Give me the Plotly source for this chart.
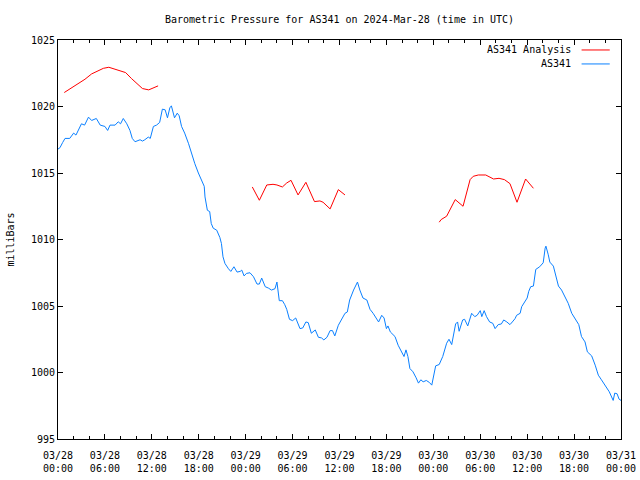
import pandas as pd
import plotly.graph_objects as go

START = "2024-03-28 00:00"

# Observed station pressure (hours after 03/28 00:00 UTC, millibars)
obs_hours = [0.0, 0.25, 0.6, 0.9, 1.5, 2.0, 2.3, 2.6, 3.0, 3.4, 3.9, 4.3, 4.9, 5.4, 6.0, 6.35, 6.65, 7.3, 7.7, 8.0,
             8.35, 8.8, 9.2, 9.5, 9.85, 10.5, 10.8, 11.1, 11.55, 11.8, 12.2, 12.6, 13.0, 13.35, 13.7, 14.0, 14.3,
             14.5, 14.9, 15.25, 15.5, 15.8, 16.2, 16.7, 17.1, 17.5, 17.95, 18.4, 18.7, 18.8, 19.1, 19.4, 19.6,
             19.85, 20.3, 20.7, 20.9, 21.1, 21.35, 21.8, 22.1, 22.5, 22.9, 23.3, 23.5, 23.8, 24.1, 24.55, 25.0,
             25.45, 25.75, 26.05, 26.5, 26.9, 27.3, 27.75, 28.0, 28.3, 28.7, 29.0, 29.25, 29.6, 30.0, 30.4,
             30.95, 31.3, 31.7, 32.0, 32.4, 32.9, 33.3, 33.7, 34.0, 34.4, 34.8, 35.1, 35.4, 35.85, 36.3, 36.7,
             37.0, 37.3, 37.8, 38.1, 38.3, 38.6, 39.0, 39.5, 39.9, 40.3, 40.75, 41.0, 41.4, 41.7, 42.0, 42.2,
             42.5, 43.1, 43.5, 43.9, 44.25, 44.5, 44.75, 45.0, 45.4, 45.8, 46.1, 46.4, 46.7, 47.1, 47.5, 47.8,
             48.1, 48.3, 48.75, 49.2, 49.7, 50.0, 50.35, 50.6, 50.85, 51.1, 51.3, 51.75, 52.0, 52.4, 52.9, 53.3,
             53.6, 54.0, 54.2, 54.5, 54.8, 55.2, 55.6, 55.9, 56.3, 56.7, 57.0, 57.4, 57.8, 58.1, 58.45, 58.65,
             59.1, 59.3, 59.7, 60.0, 60.2, 60.45, 60.8, 61.1, 61.6, 62.05, 62.3, 62.4, 62.7, 62.9, 63.35, 63.7,
             64.0, 64.4, 64.8, 65.25, 65.7, 66.1, 66.6, 66.95, 67.4, 67.7, 68.25, 68.7, 69.1, 69.5, 69.95, 70.5,
             71.0, 71.2, 71.5, 71.75, 72.0]
obs_mb = [1016.8, 1016.9, 1017.3, 1017.6, 1017.6, 1018.0, 1017.85, 1018.25, 1018.7, 1018.6, 1019.2, 1018.95,
          1019.1, 1018.6, 1018.5, 1018.2, 1018.6, 1018.6, 1018.85, 1018.7, 1019.1, 1018.7, 1018.2, 1017.6,
          1017.35, 1017.5, 1017.4, 1017.5, 1017.7, 1017.6, 1018.5, 1018.6, 1018.8, 1019.8, 1019.75, 1019.15,
          1019.9, 1020.05, 1019.15, 1019.5, 1019.3, 1018.5, 1018.0, 1017.2, 1016.4, 1015.7, 1015.0, 1014.35,
          1014.0, 1013.2, 1012.2, 1012.1, 1011.2, 1010.85, 1010.7, 1010.15, 1009.7, 1008.7, 1008.2, 1007.8,
          1007.6, 1007.95, 1007.55, 1007.6, 1007.7, 1007.26, 1007.45, 1007.5, 1007.2, 1006.65, 1006.65,
          1007.1, 1006.45, 1006.35, 1006.2, 1006.3, 1006.8, 1005.4, 1005.4, 1005.1, 1004.75, 1004.0, 1003.9,
          1004.1, 1003.3, 1003.35, 1003.8, 1003.75, 1002.95, 1003.2, 1002.65, 1002.6, 1002.45, 1002.65,
          1003.15, 1003.15, 1002.75, 1003.55, 1004.05, 1004.45, 1004.55, 1005.45, 1006.2, 1006.6, 1006.8,
          1006.2, 1005.6, 1005.45, 1004.75, 1004.45, 1004.05, 1003.8, 1004.3, 1004.1, 1003.3, 1003.5,
          1003.05, 1002.7, 1002.05, 1001.55, 1001.2, 1001.7, 1001.2, 1000.3, 1000.05, 999.6, 999.2, 999.45,
          999.3, 999.4, 999.25, 999.05, 999.9, 1000.5, 1000.6, 1001.2, 1002.2, 1002.5, 1002.1, 1002.95,
          1003.65, 1003.8, 1003.1, 1003.95, 1004.0, 1003.5, 1004.45, 1004.2, 1004.3, 1004.65, 1004.2,
          1004.65, 1004.2, 1003.8, 1003.7, 1003.3, 1003.6, 1003.65, 1003.95, 1003.8, 1003.6, 1003.8, 1004.05,
          1004.3, 1004.45, 1004.95, 1005.3, 1005.6, 1006.1, 1006.45, 1006.5, 1007.75, 1007.95, 1008.25,
          1009.35, 1009.5, 1008.85, 1008.3, 1008.0, 1007.2, 1006.5, 1006.2, 1005.7, 1005.2, 1004.45, 1004.05,
          1003.6, 1002.7, 1002.3, 1001.55, 1001.25, 1000.55, 999.8, 999.45, 999.05, 998.55, 997.9, 998.45,
          998.4, 998.0, 997.9]

# Analysis pressure (None separates the three analysis segments)
ana_hours = [0.8, 1.5, 2.6, 3.45, 4.3, 5.15, 5.8, 6.5, 7.3, 8.1, 8.65, 9.4, 10.3, 10.8, 11.6, 12.3, 12.8, None,
             24.85, 25.75, 26.7, 27.5, 28.0, 28.7, 29.25, 29.8, 30.7, 31.7, 32.8, 33.5, 33.9, 34.8, 35.85, 36.7,
             None,
             48.75, 49.0, 49.7, 50.8, 51.8, 52.7, 53.1, 53.75, 54.7, 55.7, 56.4, 57.1, 57.8, 58.7, 59.8, 60.8]
ana_mb = [1021.05, 1021.3, 1021.7, 1022.05, 1022.45, 1022.7, 1022.87, 1022.95, 1022.8, 1022.6, 1022.55, 1022.1,
          1021.6, 1021.35, 1021.25, 1021.4, 1021.55, None,
          1013.95, 1012.95, 1014.1, 1014.15, 1014.1, 1013.95, 1014.25, 1014.45, 1013.35, 1014.3, 1012.85,
          1012.9, 1012.8, 1012.3, 1013.75, 1013.35, None,
          1011.3, 1011.5, 1011.75, 1013.0, 1012.5, 1014.5, 1014.75, 1014.85, 1014.85, 1014.55, 1014.6,
          1014.5, 1014.2, 1012.8, 1014.55, 1013.85]

series_names = ["AS341 Analysis", "AS341"]
series_colors = ["#ff0000", "#0a80ff"]

t0 = pd.Timestamp(START)


def to_time(hours):
    return [None if h is None else t0 + pd.Timedelta(hours=h) for h in hours]


FONT = "DejaVu Sans Mono"
W, H = 640, 480

fig = go.Figure()
fig.add_trace(go.Scatter(x=to_time(ana_hours), y=ana_mb, mode="lines", name=series_names[0],
                         line=dict(color=series_colors[0], width=1), connectgaps=False))
fig.add_trace(go.Scatter(x=to_time(obs_hours), y=obs_mb, mode="lines", name=series_names[1],
                         line=dict(color=series_colors[1], width=1)))

axis_common = dict(showline=True, mirror="allticks", linecolor="black", linewidth=1,
                   ticks="inside", tickcolor="black", tickwidth=1, ticklen=5,
                   showgrid=False, zeroline=False,
                   tickfont=dict(family=FONT, size=10, color="black"))

fig.update_xaxes(range=[t0, t0 + pd.Timedelta(hours=72)], dtick=6 * 3600 * 1000,
                 tick0=t0, tickformat="%m/%d<br>%H:%M", ticklabelstandoff=7,
                 minor=dict(dtick=2 * 3600 * 1000, tick0=t0, ticks="inside", ticklen=3,
                            tickcolor="black", showgrid=False),
                 **axis_common)
fig.update_yaxes(range=[995, 1025], dtick=5, tick0=995,
                 title=dict(text="milliBars", font=dict(family=FONT, size=10, color="black"), standoff=14),
                 **axis_common)

# legend drawn gnuplot-style: text right-aligned, line sample to its right
legend_rows = [0.975, 0.94]
for name, color, yy in zip(series_names, series_colors, legend_rows):
    fig.add_annotation(x=0.915, y=yy, xref="paper", yref="paper", text=name, showarrow=False,
                       xanchor="right", yanchor="middle", font=dict(family=FONT, size=10, color="black"))
    fig.add_shape(type="line", xref="paper", yref="paper", x0=0.93, x1=0.98, y0=yy, y1=yy,
                  line=dict(color=color, width=1))

fig.update_layout(
    width=W, height=H,
    margin=dict(l=58, r=19, t=40, b=41, autoexpand=False),
    paper_bgcolor="white", plot_bgcolor="white",
    showlegend=False,
    hovermode=False,
    title=dict(text="Barometric Pressure for AS341 on 2024-Mar-28 (time in UTC)",
               x=0.5, xref="paper", xanchor="center", y=1 - 19 / H, yref="container", yanchor="middle",
               font=dict(family=FONT, size=10, color="black")),
    font=dict(family=FONT, size=10, color="black"),
)

fig.write_html("out.html", config={"displayModeBar": False},
               post_script="document.body.style.margin='0';document.body.style.overflow='hidden';")
